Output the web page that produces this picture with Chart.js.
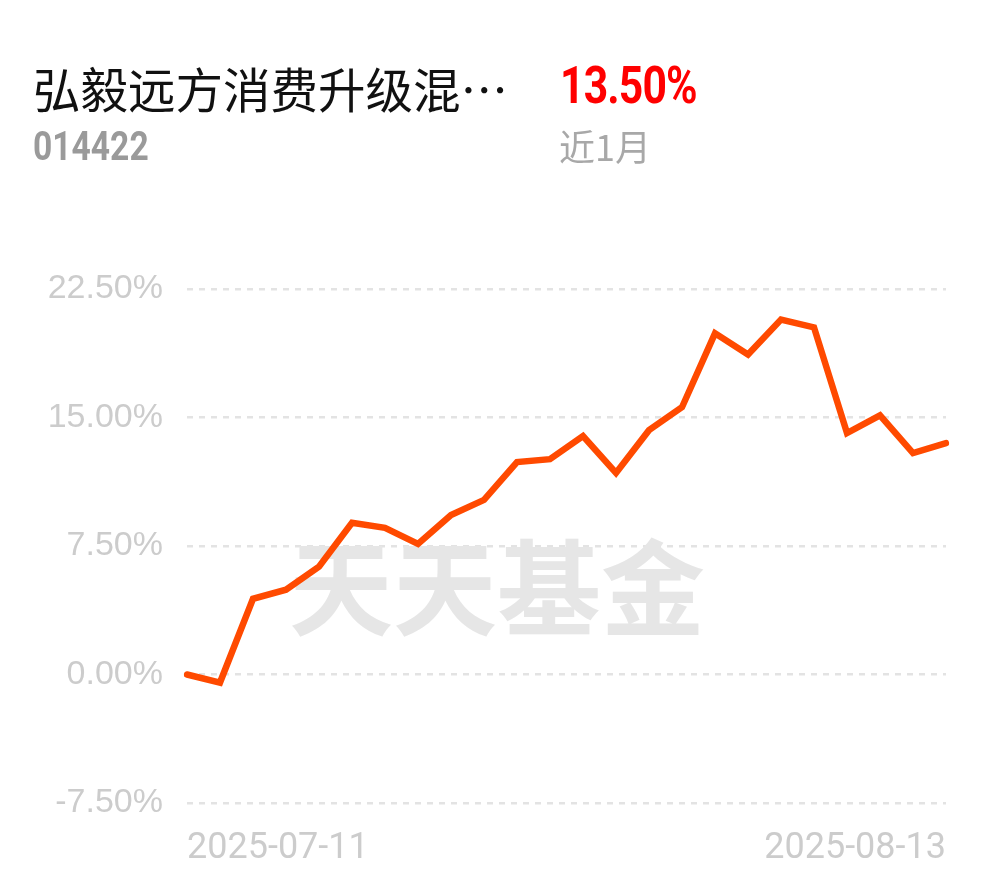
<!DOCTYPE html>
<html><head><meta charset="utf-8">
<script src="https://cdn.jsdelivr.net/npm/chart.js@4.4.1/dist/chart.umd.min.js"></script>
<style>
html,body{margin:0;padding:0;background:#fff;}
#wrap{position:relative;width:990px;height:878px;overflow:hidden;}
#c{position:absolute;left:0;top:0;}
.t{position:absolute;white-space:nowrap;line-height:1;}
#name{left:33px;top:53px;font:47.5px "Noto Sans CJK SC",sans-serif;color:#111;}
#ret{left:560px;top:55px;font:bold 52px Roboto,sans-serif;color:#f00;transform-origin:left top;transform:scaleX(0.82);letter-spacing:-1px;}
#code{left:33px;top:123px;font:bold 40px Roboto,sans-serif;color:#9a9a9a;transform-origin:left top;transform:scaleX(0.84);}
#per{left:559px;top:119px;font:36px "Noto Sans CJK SC",sans-serif;color:#a8a8a8;}
</style></head>
<body><div id="wrap">
<canvas id="c" width="990" height="878"></canvas>
<div class="t" id="name">弘毅远方消费升级混…</div>
<div class="t" id="ret">13.50%</div>
<div class="t" id="code">014422</div>
<div class="t" id="per">近1月</div>
</div>
<script>
const dates = ["2025-07-11","2025-07-14","2025-07-15","2025-07-16","2025-07-17","2025-07-18","2025-07-21","2025-07-22","2025-07-23","2025-07-24","2025-07-25","2025-07-28","2025-07-29","2025-07-30","2025-07-31","2025-08-01","2025-08-04","2025-08-05","2025-08-06","2025-08-07","2025-08-08","2025-08-11","2025-08-12","2025-08-13"];
const returns = [0.00,-0.47,4.42,4.95,6.29,8.85,8.56,7.62,9.31,10.19,12.40,12.57,13.91,11.76,14.26,15.60,19.91,18.68,20.72,20.26,14.09,15.13,12.92,13.50];
const yTicks = [-7.5,0,7.5,15,22.5];

const watermark = {
  id:'watermark',
  beforeDatasetsDraw(chart){
    const ctx = chart.ctx;
    ctx.save();
    ctx.font = 'bold 104px "Noto Sans CJK SC", sans-serif';
    ctx.fillStyle = '#e6e6e6';
    ctx.textAlign = 'center';
    ctx.textBaseline = 'middle';
    ctx.fillText('天天基金', 497, 588);
    ctx.restore();
  }
};

new Chart(document.getElementById('c'), {
  type:'line',
  data:{labels:dates, datasets:[{data:returns, borderColor:'#FF4A00', borderWidth:6.5, pointRadius:0, tension:0, fill:false, borderJoinStyle:'miter', borderCapStyle:'round'}]},
  options:{
    responsive:false, animation:false,
    layout:{padding:{left:0,right:44,top:289,bottom:0}},
    plugins:{legend:{display:false},tooltip:{enabled:false}},
    scales:{
      x:{
        grid:{display:false,drawTicks:false},
        border:{display:false},
        afterFit(s){s.height = 75;},
        ticks:{autoSkip:false,maxRotation:0,minRotation:0,align:'inner',padding:24,color:'#cccccc',
          font:{family:'Roboto',size:36},
          callback(v,i){return (i===0||i===dates.length-1)?dates[i]:'';}}
      },
      y:{
        min:-7.5,max:22.5,
        afterFit(s){s.width = 187;},
        afterBuildTicks(s){s.ticks = yTicks.map(v=>({value:v}));},
        grid:{color:'#e3e3e3',lineWidth:2.5,drawTicks:false},
        border:{display:false,dash:[6,6]},
        ticks:{padding:24,color:'#cccccc',font:{family:'Liberation Sans',size:34},
          callback(v){return v.toFixed(2)+'%';}}
      }
    }
  },
  plugins:[watermark]
});
</script>
</body></html>
